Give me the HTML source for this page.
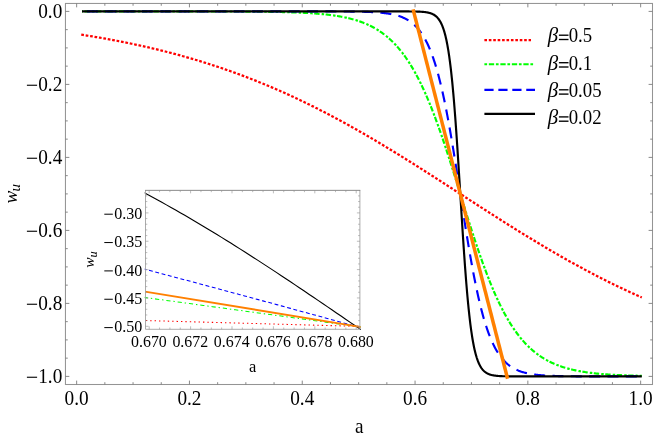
<!DOCTYPE html><html><head><meta charset="utf-8"><style>html,body{margin:0;padding:0;background:#fff;overflow:hidden}svg{will-change:transform;display:block;position:absolute;left:0;top:0}text{font-family:"Liberation Serif",serif;fill:#000}</style></head><body>
<svg width="654" height="436" viewBox="0 0 654 436">
<rect width="654" height="436" fill="#fff"/>
<defs><clipPath id="mc"><rect x="65.45" y="3.45" width="587.05" height="381.05"/></clipPath><clipPath id="ic"><rect x="144.70" y="190.35" width="216.10" height="139.55"/></clipPath></defs>
<g clip-path="url(#mc)" fill="none" stroke-linejoin="round">
<path d="M81.25,34.64 L83.12,34.93 L84.99,35.22 L86.86,35.52 L88.72,35.82 L90.59,36.13 L92.46,36.43 L94.33,36.74 L96.20,37.06 L98.07,37.38 L99.93,37.70 L101.80,38.02 L103.67,38.35 L105.54,38.68 L107.41,39.02 L109.28,39.36 L111.14,39.70 L113.01,40.05 L114.88,40.40 L116.75,40.76 L118.62,41.12 L120.49,41.48 L122.36,41.85 L124.22,42.22 L126.09,42.60 L127.96,42.98 L129.83,43.36 L131.70,43.75 L133.57,44.15 L135.43,44.54 L137.30,44.94 L139.17,45.35 L141.04,45.76 L142.91,46.17 L144.78,46.59 L146.64,47.02 L148.51,47.45 L150.38,47.88 L152.25,48.32 L154.12,48.76 L155.99,49.20 L157.86,49.66 L159.72,50.11 L161.59,50.57 L163.46,51.04 L165.33,51.51 L167.20,51.99 L169.07,52.47 L170.93,52.95 L172.80,53.44 L174.67,53.94 L176.54,54.44 L178.41,54.94 L180.28,55.45 L182.15,55.97 L184.01,56.49 L185.88,57.02 L187.75,57.55 L189.62,58.09 L191.49,58.63 L193.36,59.18 L195.22,59.73 L197.09,60.29 L198.96,60.85 L200.83,61.42 L202.70,61.99 L204.57,62.57 L206.43,63.16 L208.30,63.75 L210.17,64.35 L212.04,64.95 L213.91,65.56 L215.78,66.17 L217.65,66.79 L219.51,67.42 L221.38,68.05 L223.25,68.69 L225.12,69.33 L226.99,69.98 L228.86,70.63 L230.72,71.29 L232.59,71.96 L234.46,72.63 L236.33,73.31 L238.20,74.00 L240.07,74.69 L241.93,75.38 L243.80,76.08 L245.67,76.79 L247.54,77.51 L249.41,78.23 L251.28,78.95 L253.15,79.69 L255.01,80.42 L256.88,81.17 L258.75,81.92 L260.62,82.68 L262.49,83.44 L264.36,84.21 L266.22,84.99 L268.09,85.77 L269.96,86.55 L271.83,87.35 L273.70,88.15 L275.57,88.95 L277.43,89.77 L279.30,90.59 L281.17,91.41 L283.04,92.24 L284.91,93.08 L286.78,93.92 L288.65,94.77 L290.51,95.63 L292.38,96.49 L294.25,97.36 L296.12,98.23 L297.99,99.11 L299.86,100.00 L301.72,100.89 L303.59,101.79 L305.46,102.69 L307.33,103.60 L309.20,104.52 L311.07,105.44 L312.93,106.37 L314.80,107.30 L316.67,108.24 L318.54,109.19 L320.41,110.14 L322.28,111.10 L324.15,112.06 L326.01,113.03 L327.88,114.00 L329.75,114.98 L331.62,115.97 L333.49,116.96 L335.36,117.96 L337.22,118.96 L339.09,119.97 L340.96,120.98 L342.83,122.00 L344.70,123.02 L346.57,124.05 L348.44,125.09 L350.30,126.13 L352.17,127.17 L354.04,128.22 L355.91,129.28 L357.78,130.34 L359.65,131.40 L361.51,132.47 L363.38,133.55 L365.25,134.63 L367.12,135.71 L368.99,136.80 L370.86,137.89 L372.72,138.99 L374.59,140.09 L376.46,141.20 L378.33,142.31 L380.20,143.42 L382.07,144.54 L383.94,145.66 L385.80,146.79 L387.67,147.92 L389.54,149.05 L391.41,150.19 L393.28,151.33 L395.15,152.48 L397.01,153.63 L398.88,154.78 L400.75,155.94 L402.62,157.09 L404.49,158.26 L406.36,159.42 L408.22,160.59 L410.09,161.76 L411.96,162.93 L413.83,164.11 L415.70,165.28 L417.57,166.47 L419.44,167.65 L421.30,168.83 L423.17,170.02 L425.04,171.21 L426.91,172.40 L428.78,173.60 L430.65,174.79 L432.51,175.99 L434.38,177.19 L436.25,178.39 L438.12,179.59 L439.99,180.79 L441.86,181.99 L443.72,183.20 L445.59,184.40 L447.46,185.61 L449.33,186.82 L451.20,188.02 L453.07,189.23 L454.94,190.44 L456.80,191.65 L458.67,192.86 L460.54,194.07 L462.41,195.28 L464.28,196.49 L466.15,197.69 L468.01,198.90 L469.88,200.11 L471.75,201.32 L473.62,202.52 L475.49,203.73 L477.36,204.94 L479.22,206.14 L481.09,207.34 L482.96,208.55 L484.83,209.75 L486.70,210.95 L488.57,212.14 L490.44,213.34 L492.30,214.53 L494.17,215.73 L496.04,216.92 L497.91,218.11 L499.78,219.29 L501.65,220.48 L503.51,221.66 L505.38,222.84 L507.25,224.02 L509.12,225.19 L510.99,226.37 L512.86,227.54 L514.72,228.70 L516.59,229.87 L518.46,231.03 L520.33,232.18 L522.20,233.34 L524.07,234.49 L525.94,235.64 L527.80,236.78 L529.67,237.92 L531.54,239.06 L533.41,240.19 L535.28,241.32 L537.15,242.45 L539.01,243.57 L540.88,244.69 L542.75,245.80 L544.62,246.91 L546.49,248.01 L548.36,249.11 L550.23,250.21 L552.09,251.30 L553.96,252.39 L555.83,253.47 L557.70,254.55 L559.57,255.62 L561.44,256.69 L563.30,257.76 L565.17,258.81 L567.04,259.87 L568.91,260.92 L570.78,261.96 L572.65,263.00 L574.51,264.03 L576.38,265.06 L578.25,266.08 L580.12,267.10 L581.99,268.11 L583.86,269.12 L585.73,270.12 L587.59,271.11 L589.46,272.10 L591.33,273.09 L593.20,274.07 L595.07,275.04 L596.94,276.01 L598.80,276.97 L600.67,277.93 L602.54,278.88 L604.41,279.82 L606.28,280.76 L608.15,281.69 L610.01,282.62 L611.88,283.54 L613.75,284.45 L615.62,285.36 L617.49,286.26 L619.36,287.16 L621.23,288.05 L623.09,288.93 L624.96,289.81 L626.83,290.68 L628.70,291.55 L630.57,292.41 L632.44,293.26 L634.30,294.11 L636.17,294.95 L638.04,295.79 L639.91,296.62 L641.78,297.44" stroke="#ff0000" stroke-width="2.25" stroke-dasharray="2.7 1.78" />
<path d="M82.01,11.40 L82.94,11.40 L83.87,11.40 L84.81,11.40 L85.74,11.40 L86.67,11.40 L87.61,11.40 L88.54,11.40 L89.47,11.40 L90.40,11.40 L91.34,11.40 L92.27,11.40 L93.20,11.40 L94.14,11.40 L95.07,11.40 L96.00,11.40 L96.94,11.40 L97.87,11.40 L98.80,11.40 L99.73,11.40 L100.67,11.40 L101.60,11.40 L102.53,11.40 L103.47,11.40 L104.40,11.40 L105.33,11.40 L106.26,11.40 L107.20,11.40 L108.13,11.40 L109.06,11.40 L110.00,11.40 L110.93,11.40 L111.86,11.40 L112.80,11.40 L113.73,11.40 L114.66,11.40 L115.59,11.40 L116.53,11.40 L117.46,11.40 L118.39,11.40 L119.33,11.40 L120.26,11.40 L121.19,11.40 L122.12,11.40 L123.06,11.40 L123.99,11.40 L124.92,11.40 L125.86,11.40 L126.79,11.40 L127.72,11.40 L128.66,11.40 L129.59,11.40 L130.52,11.40 L131.45,11.40 L132.39,11.40 L133.32,11.40 L134.25,11.40 L135.19,11.40 L136.12,11.40 L137.05,11.40 L137.99,11.40 L138.92,11.40 L139.85,11.40 L140.78,11.40 L141.72,11.40 L142.65,11.40 L143.58,11.40 L144.52,11.41 L145.45,11.41 L146.38,11.41 L147.31,11.41 L148.25,11.41 L149.18,11.41 L150.11,11.41 L151.05,11.41 L151.98,11.41 L152.91,11.41 L153.85,11.41 L154.78,11.41 L155.71,11.41 L156.64,11.41 L157.58,11.41 L158.51,11.41 L159.44,11.41 L160.38,11.41 L161.31,11.41 L162.24,11.41 L163.17,11.41 L164.11,11.41 L165.04,11.41 L165.97,11.41 L166.91,11.41 L167.84,11.41 L168.77,11.41 L169.71,11.41 L170.64,11.41 L171.57,11.41 L172.50,11.41 L173.44,11.41 L174.37,11.41 L175.30,11.41 L176.24,11.42 L177.17,11.42 L178.10,11.42 L179.03,11.42 L179.97,11.42 L180.90,11.42 L181.83,11.42 L182.77,11.42 L183.70,11.42 L184.63,11.42 L185.57,11.42 L186.50,11.42 L187.43,11.42 L188.36,11.42 L189.30,11.42 L190.23,11.43 L191.16,11.43 L192.10,11.43 L193.03,11.43 L193.96,11.43 L194.89,11.43 L195.83,11.43 L196.76,11.43 L197.69,11.43 L198.63,11.43 L199.56,11.44 L200.49,11.44 L201.43,11.44 L202.36,11.44 L203.29,11.44 L204.22,11.44 L205.16,11.44 L206.09,11.44 L207.02,11.45 L207.96,11.45 L208.89,11.45 L209.82,11.45 L210.76,11.45 L211.69,11.45 L212.62,11.46 L213.55,11.46 L214.49,11.46 L215.42,11.46 L216.35,11.46 L217.29,11.47 L218.22,11.47 L219.15,11.47 L220.08,11.47 L221.02,11.48 L221.95,11.48 L222.88,11.48 L223.82,11.48 L224.75,11.49 L225.68,11.49 L226.62,11.49 L227.55,11.50 L228.48,11.50 L229.41,11.50 L230.35,11.50 L231.28,11.51 L232.21,11.51 L233.15,11.52 L234.08,11.52 L235.01,11.52 L235.94,11.53 L236.88,11.53 L237.81,11.54 L238.74,11.54 L239.68,11.55 L240.61,11.55 L241.54,11.56 L242.48,11.56 L243.41,11.57 L244.34,11.57 L245.27,11.58 L246.21,11.58 L247.14,11.59 L248.07,11.60 L249.01,11.60 L249.94,11.61 L250.87,11.62 L251.80,11.62 L252.74,11.63 L253.67,11.64 L254.60,11.65 L255.54,11.66 L256.47,11.66 L257.40,11.67 L258.34,11.68 L259.27,11.69 L260.20,11.70 L261.13,11.71 L262.07,11.72 L263.00,11.73 L263.93,11.75 L264.87,11.76 L265.80,11.77 L266.73,11.78 L267.67,11.79 L268.60,11.81 L269.53,11.82 L270.46,11.83 L271.40,11.85 L272.33,11.86 L273.26,11.88 L274.20,11.90 L275.13,11.91 L276.06,11.93 L276.99,11.95 L277.93,11.97 L278.86,11.99 L279.79,12.01 L280.73,12.03 L281.66,12.05 L282.59,12.07 L283.53,12.09 L284.46,12.11 L285.39,12.14 L286.32,12.16 L287.26,12.19 L288.19,12.21 L289.12,12.24 L290.06,12.27 L290.99,12.30 L291.92,12.33 L292.85,12.36 L293.79,12.39 L294.72,12.43 L295.65,12.46 L296.59,12.50 L297.52,12.53 L298.45,12.57 L299.39,12.61 L300.32,12.65 L301.25,12.69 L302.18,12.74 L303.12,12.78 L304.05,12.83 L304.98,12.88 L305.92,12.92 L306.85,12.98 L307.78,13.03 L308.71,13.08 L309.65,13.14 L310.58,13.20 L311.51,13.26 L312.45,13.32 L313.38,13.38 L314.31,13.45 L315.25,13.52 L316.18,13.59 L317.11,13.66 L318.04,13.74 L318.98,13.82 L319.91,13.90 L320.84,13.98 L321.78,14.07 L322.71,14.16 L323.64,14.25 L324.58,14.34 L325.51,14.44 L326.44,14.54 L327.37,14.65 L328.31,14.76 L329.24,14.87 L330.17,14.98 L331.11,15.10 L332.04,15.23 L332.97,15.35 L333.90,15.48 L334.84,15.62 L335.77,15.76 L336.70,15.91 L337.64,16.05 L338.57,16.21 L339.50,16.37 L340.44,16.53 L341.37,16.70 L342.30,16.88 L343.23,17.06 L344.17,17.25 L345.10,17.44 L346.03,17.64 L346.97,17.85 L347.90,18.06 L348.83,18.28 L349.76,18.51 L350.70,18.74 L351.63,18.98 L352.56,19.23 L353.50,19.49 L354.43,19.76 L355.36,20.03 L356.30,20.31 L357.23,20.61 L358.16,20.91 L359.09,21.22 L360.03,21.54 L360.96,21.87 L361.89,22.21 L362.83,22.57 L363.76,22.93 L364.69,23.31 L365.62,23.69 L366.56,24.09 L367.49,24.50 L368.42,24.93 L369.36,25.36 L370.29,25.82 L371.22,26.28 L372.16,26.76 L373.09,27.26 L374.02,27.76 L374.95,28.29 L375.89,28.83 L376.82,29.39 L377.75,29.96 L378.69,30.55 L379.62,31.16 L380.55,31.79 L381.48,32.44 L382.42,33.10 L383.35,33.79 L384.28,34.49 L385.22,35.22 L386.15,35.97 L387.08,36.74 L388.02,37.53 L388.95,38.34 L389.88,39.18 L390.81,40.04 L391.75,40.92 L392.68,41.83 L393.61,42.77 L394.55,43.73 L395.48,44.72 L396.41,45.74 L397.35,46.78 L398.28,47.85 L399.21,48.95 L400.14,50.08 L401.08,51.24 L402.01,52.43 L402.94,53.65 L403.88,54.90 L404.81,56.18 L405.74,57.50 L406.67,58.85 L407.61,60.23 L408.54,61.65 L409.47,63.10 L410.41,64.58 L411.34,66.10 L412.27,67.66 L413.21,69.25 L414.14,70.88 L415.07,72.55 L416.00,74.25 L416.94,75.99 L417.87,77.77 L418.80,79.58 L419.74,81.44 L420.67,83.33 L421.60,85.26 L422.53,87.23 L423.47,89.23 L424.40,91.28 L425.33,93.36 L426.27,95.48 L427.20,97.64 L428.13,99.84 L429.07,102.08 L430.00,104.35 L430.93,106.66 L431.86,109.01 L432.80,111.39 L433.73,113.81 L434.66,116.27 L435.60,118.76 L436.53,121.28 L437.46,123.84 L438.39,126.43 L439.33,129.05 L440.26,131.70 L441.19,134.39 L442.13,137.10 L443.06,139.84 L443.99,142.61 L444.93,145.40 L445.86,148.22 L446.79,151.06 L447.72,153.92 L448.66,156.81 L449.59,159.71 L450.52,162.63 L451.46,165.57 L452.39,168.52 L453.32,171.49 L454.26,174.47 L455.19,177.46 L456.12,180.46 L457.05,183.46 L457.99,186.47 L458.92,189.49 L459.85,192.51 L460.79,195.53 L461.72,198.55 L462.65,201.56 L463.58,204.57 L464.52,207.58 L465.45,210.57 L466.38,213.56 L467.32,216.54 L468.25,219.51 L469.18,222.46 L470.12,225.40 L471.05,228.32 L471.98,231.22 L472.91,234.10 L473.85,236.96 L474.78,239.80 L475.71,242.62 L476.65,245.41 L477.58,248.18 L478.51,250.91 L479.44,253.62 L480.38,256.30 L481.31,258.96 L482.24,261.57 L483.18,264.16 L484.11,266.72 L485.04,269.24 L485.98,271.73 L486.91,274.18 L487.84,276.60 L488.77,278.98 L489.71,281.32 L490.64,283.63 L491.57,285.90 L492.51,288.13 L493.44,290.33 L494.37,292.48 L495.30,294.60 L496.24,296.68 L497.17,298.73 L498.10,300.73 L499.04,302.69 L499.97,304.62 L500.90,306.51 L501.84,308.36 L502.77,310.17 L503.70,311.95 L504.63,313.68 L505.57,315.38 L506.50,317.05 L507.43,318.67 L508.37,320.26 L509.30,321.82 L510.23,323.33 L511.16,324.82 L512.10,326.26 L513.03,327.68 L513.96,329.06 L514.90,330.40 L515.83,331.72 L516.76,333.00 L517.70,334.25 L518.63,335.47 L519.56,336.65 L520.49,337.81 L521.43,338.94 L522.36,340.03 L523.29,341.10 L524.23,342.14 L525.16,343.16 L526.09,344.14 L527.03,345.10 L527.96,346.04 L528.89,346.95 L529.82,347.83 L530.76,348.69 L531.69,349.52 L532.62,350.34 L533.56,351.13 L534.49,351.89 L535.42,352.64 L536.35,353.36 L537.29,354.07 L538.22,354.75 L539.15,355.41 L540.09,356.06 L541.02,356.69 L541.95,357.29 L542.89,357.88 L543.82,358.46 L544.75,359.01 L545.68,359.55 L546.62,360.08 L547.55,360.58 L548.48,361.08 L549.42,361.56 L550.35,362.02 L551.28,362.47 L552.21,362.91 L553.15,363.33 L554.08,363.74 L555.01,364.14 L555.95,364.52 L556.88,364.90 L557.81,365.26 L558.75,365.61 L559.68,365.95 L560.61,366.28 L561.54,366.61 L562.48,366.92 L563.41,367.22 L564.34,367.51 L565.28,367.79 L566.21,368.06 L567.14,368.33 L568.07,368.59 L569.01,368.84 L569.94,369.08 L570.87,369.31 L571.81,369.54 L572.74,369.76 L573.67,369.97 L574.61,370.17 L575.54,370.37 L576.47,370.57 L577.40,370.75 L578.34,370.93 L579.27,371.11 L580.20,371.28 L581.14,371.44 L582.07,371.60 L583.00,371.76 L583.94,371.91 L584.87,372.05 L585.80,372.19 L586.73,372.33 L587.67,372.46 L588.60,372.58 L589.53,372.71 L590.47,372.83 L591.40,372.94 L592.33,373.05 L593.26,373.16 L594.20,373.27 L595.13,373.37 L596.06,373.46 L597.00,373.56 L597.93,373.65 L598.86,373.74 L599.80,373.83 L600.73,373.91 L601.66,373.99 L602.59,374.07 L603.53,374.14 L604.46,374.22 L605.39,374.29 L606.33,374.35 L607.26,374.42 L608.19,374.49 L609.12,374.55 L610.06,374.61 L610.99,374.67 L611.92,374.72 L612.86,374.78 L613.79,374.83 L614.72,374.88 L615.66,374.93 L616.59,374.98 L617.52,375.02 L618.45,375.07 L619.39,375.11 L620.32,375.15 L621.25,375.19 L622.19,375.23 L623.12,375.27 L624.05,375.31 L624.98,375.34 L625.92,375.38 L626.85,375.41 L627.78,375.44 L628.72,375.47 L629.65,375.50 L630.58,375.53 L631.52,375.56 L632.45,375.59 L633.38,375.61 L634.31,375.64 L635.25,375.66 L636.18,375.69 L637.11,375.71 L638.05,375.73 L638.98,375.76 L639.91,375.78 L640.85,375.80 L641.78,375.82" stroke="#00ff00" stroke-width="2.15" stroke-dasharray="2.5 1.5 5.4 2.088" stroke-dashoffset="1.55"/>
<path d="M82.01,11.40 L82.71,11.40 L83.41,11.40 L84.11,11.40 L84.81,11.40 L85.51,11.40 L86.21,11.40 L86.91,11.40 L87.61,11.40 L88.31,11.40 L89.01,11.40 L89.70,11.40 L90.40,11.40 L91.10,11.40 L91.80,11.40 L92.50,11.40 L93.20,11.40 L93.90,11.40 L94.60,11.40 L95.30,11.40 L96.00,11.40 L96.70,11.40 L97.40,11.40 L98.10,11.40 L98.80,11.40 L99.50,11.40 L100.20,11.40 L100.90,11.40 L101.60,11.40 L102.30,11.40 L103.00,11.40 L103.70,11.40 L104.40,11.40 L105.10,11.40 L105.80,11.40 L106.50,11.40 L107.20,11.40 L107.90,11.40 L108.60,11.40 L109.30,11.40 L110.00,11.40 L110.70,11.40 L111.40,11.40 L112.10,11.40 L112.80,11.40 L113.50,11.40 L114.19,11.40 L114.89,11.40 L115.59,11.40 L116.29,11.40 L116.99,11.40 L117.69,11.40 L118.39,11.40 L119.09,11.40 L119.79,11.40 L120.49,11.40 L121.19,11.40 L121.89,11.40 L122.59,11.40 L123.29,11.40 L123.99,11.40 L124.69,11.40 L125.39,11.40 L126.09,11.40 L126.79,11.40 L127.49,11.40 L128.19,11.40 L128.89,11.40 L129.59,11.40 L130.29,11.40 L130.99,11.40 L131.69,11.40 L132.39,11.40 L133.09,11.40 L133.79,11.40 L134.49,11.40 L135.19,11.40 L135.89,11.40 L136.59,11.40 L137.29,11.40 L137.99,11.40 L138.68,11.40 L139.38,11.40 L140.08,11.40 L140.78,11.40 L141.48,11.40 L142.18,11.40 L142.88,11.40 L143.58,11.40 L144.28,11.40 L144.98,11.40 L145.68,11.40 L146.38,11.40 L147.08,11.40 L147.78,11.40 L148.48,11.40 L149.18,11.40 L149.88,11.40 L150.58,11.40 L151.28,11.40 L151.98,11.40 L152.68,11.40 L153.38,11.40 L154.08,11.40 L154.78,11.40 L155.48,11.40 L156.18,11.40 L156.88,11.40 L157.58,11.40 L158.28,11.40 L158.98,11.40 L159.68,11.40 L160.38,11.40 L161.08,11.40 L161.78,11.40 L162.47,11.40 L163.17,11.40 L163.87,11.40 L164.57,11.40 L165.27,11.40 L165.97,11.40 L166.67,11.40 L167.37,11.40 L168.07,11.40 L168.77,11.40 L169.47,11.40 L170.17,11.40 L170.87,11.40 L171.57,11.40 L172.27,11.40 L172.97,11.40 L173.67,11.40 L174.37,11.40 L175.07,11.40 L175.77,11.40 L176.47,11.40 L177.17,11.40 L177.87,11.40 L178.57,11.40 L179.27,11.40 L179.97,11.40 L180.67,11.40 L181.37,11.40 L182.07,11.40 L182.77,11.40 L183.47,11.40 L184.17,11.40 L184.87,11.40 L185.57,11.40 L186.27,11.40 L186.96,11.40 L187.66,11.40 L188.36,11.40 L189.06,11.40 L189.76,11.40 L190.46,11.40 L191.16,11.40 L191.86,11.40 L192.56,11.40 L193.26,11.40 L193.96,11.40 L194.66,11.40 L195.36,11.40 L196.06,11.40 L196.76,11.40 L197.46,11.40 L198.16,11.40 L198.86,11.40 L199.56,11.40 L200.26,11.40 L200.96,11.40 L201.66,11.40 L202.36,11.40 L203.06,11.40 L203.76,11.40 L204.46,11.40 L205.16,11.40 L205.86,11.40 L206.56,11.40 L207.26,11.40 L207.96,11.40 L208.66,11.40 L209.36,11.40 L210.06,11.40 L210.76,11.40 L211.45,11.40 L212.15,11.40 L212.85,11.40 L213.55,11.40 L214.25,11.40 L214.95,11.40 L215.65,11.40 L216.35,11.40 L217.05,11.40 L217.75,11.40 L218.45,11.40 L219.15,11.40 L219.85,11.40 L220.55,11.40 L221.25,11.40 L221.95,11.40 L222.65,11.40 L223.35,11.40 L224.05,11.40 L224.75,11.40 L225.45,11.40 L226.15,11.40 L226.85,11.40 L227.55,11.40 L228.25,11.40 L228.95,11.40 L229.65,11.40 L230.35,11.40 L231.05,11.40 L231.75,11.40 L232.45,11.40 L233.15,11.40 L233.85,11.40 L234.55,11.40 L235.25,11.40 L235.94,11.40 L236.64,11.40 L237.34,11.40 L238.04,11.40 L238.74,11.40 L239.44,11.40 L240.14,11.40 L240.84,11.40 L241.54,11.40 L242.24,11.40 L242.94,11.40 L243.64,11.40 L244.34,11.40 L245.04,11.40 L245.74,11.40 L246.44,11.40 L247.14,11.40 L247.84,11.40 L248.54,11.40 L249.24,11.40 L249.94,11.40 L250.64,11.40 L251.34,11.40 L252.04,11.40 L252.74,11.40 L253.44,11.40 L254.14,11.40 L254.84,11.40 L255.54,11.40 L256.24,11.40 L256.94,11.40 L257.64,11.40 L258.34,11.40 L259.04,11.40 L259.73,11.40 L260.43,11.40 L261.13,11.40 L261.83,11.40 L262.53,11.40 L263.23,11.40 L263.93,11.40 L264.63,11.40 L265.33,11.40 L266.03,11.40 L266.73,11.40 L267.43,11.40 L268.13,11.40 L268.83,11.40 L269.53,11.40 L270.23,11.40 L270.93,11.40 L271.63,11.40 L272.33,11.40 L273.03,11.40 L273.73,11.40 L274.43,11.40 L275.13,11.40 L275.83,11.40 L276.53,11.40 L277.23,11.40 L277.93,11.40 L278.63,11.40 L279.33,11.40 L280.03,11.40 L280.73,11.40 L281.43,11.40 L282.13,11.40 L282.83,11.40 L283.53,11.40 L284.22,11.40 L284.92,11.40 L285.62,11.40 L286.32,11.40 L287.02,11.40 L287.72,11.40 L288.42,11.40 L289.12,11.40 L289.82,11.40 L290.52,11.40 L291.22,11.40 L291.92,11.40 L292.62,11.40 L293.32,11.40 L294.02,11.40 L294.72,11.40 L295.42,11.40 L296.12,11.40 L296.82,11.40 L297.52,11.40 L298.22,11.40 L298.92,11.40 L299.62,11.40 L300.32,11.40 L301.02,11.40 L301.72,11.40 L302.42,11.41 L303.12,11.41 L303.82,11.41 L304.52,11.41 L305.22,11.41 L305.92,11.41 L306.62,11.41 L307.32,11.41 L308.02,11.41 L308.71,11.41 L309.41,11.41 L310.11,11.41 L310.81,11.41 L311.51,11.41 L312.21,11.41 L312.91,11.41 L313.61,11.41 L314.31,11.41 L315.01,11.41 L315.71,11.41 L316.41,11.41 L317.11,11.41 L317.81,11.41 L318.51,11.42 L319.21,11.42 L319.91,11.42 L320.61,11.42 L321.31,11.42 L322.01,11.42 L322.71,11.42 L323.41,11.42 L324.11,11.42 L324.81,11.42 L325.51,11.43 L326.21,11.43 L326.91,11.43 L327.61,11.43 L328.31,11.43 L329.01,11.43 L329.71,11.43 L330.41,11.44 L331.11,11.44 L331.81,11.44 L332.51,11.44 L333.20,11.44 L333.90,11.45 L334.60,11.45 L335.30,11.45 L336.00,11.45 L336.70,11.46 L337.40,11.46 L338.10,11.46 L338.80,11.47 L339.50,11.47 L340.20,11.47 L340.90,11.48 L341.60,11.48 L342.30,11.48 L343.00,11.49 L343.70,11.49 L344.40,11.50 L345.10,11.50 L345.80,11.51 L346.50,11.51 L347.20,11.52 L347.90,11.53 L348.60,11.53 L349.30,11.54 L350.00,11.55 L350.70,11.55 L351.40,11.56 L352.10,11.57 L352.80,11.58 L353.50,11.59 L354.20,11.60 L354.90,11.61 L355.60,11.62 L356.30,11.63 L357.00,11.64 L357.69,11.65 L358.39,11.67 L359.09,11.68 L359.79,11.69 L360.49,11.71 L361.19,11.72 L361.89,11.74 L362.59,11.76 L363.29,11.78 L363.99,11.79 L364.69,11.81 L365.39,11.84 L366.09,11.86 L366.79,11.88 L367.49,11.91 L368.19,11.93 L368.89,11.96 L369.59,11.99 L370.29,12.02 L370.99,12.05 L371.69,12.08 L372.39,12.11 L373.09,12.15 L373.79,12.19 L374.49,12.23 L375.19,12.27 L375.89,12.32 L376.59,12.36 L377.29,12.41 L377.99,12.46 L378.69,12.52 L379.39,12.57 L380.09,12.63 L380.79,12.69 L381.48,12.76 L382.18,12.83 L382.88,12.90 L383.58,12.98 L384.28,13.06 L384.98,13.14 L385.68,13.23 L386.38,13.32 L387.08,13.42 L387.78,13.52 L388.48,13.63 L389.18,13.74 L389.88,13.86 L390.58,13.98 L391.28,14.11 L391.98,14.25 L392.68,14.40 L393.38,14.55 L394.08,14.71 L394.78,14.87 L395.48,15.05 L396.18,15.23 L396.88,15.42 L397.58,15.63 L398.28,15.84 L398.98,16.06 L399.68,16.29 L400.38,16.54 L401.08,16.80 L401.78,17.07 L402.48,17.35 L403.18,17.65 L403.88,17.96 L404.58,18.29 L405.28,18.63 L405.97,18.99 L406.67,19.37 L407.37,19.77 L408.07,20.18 L408.77,20.62 L409.47,21.07 L410.17,21.55 L410.87,22.05 L411.57,22.58 L412.27,23.13 L412.97,23.71 L413.67,24.31 L414.37,24.94 L415.07,25.61 L415.77,26.30 L416.47,27.03 L417.17,27.78 L417.87,28.58 L418.57,29.41 L419.27,30.28 L419.97,31.19 L420.67,32.14 L421.37,33.13 L422.07,34.17 L422.77,35.25 L423.47,36.38 L424.17,37.56 L424.87,38.79 L425.57,40.07 L426.27,41.41 L426.97,42.81 L427.67,44.26 L428.37,45.78 L429.07,47.35 L429.77,48.99 L430.46,50.70 L431.16,52.47 L431.86,54.32 L432.56,56.23 L433.26,58.22 L433.96,60.29 L434.66,62.42 L435.36,64.64 L436.06,66.94 L436.76,69.32 L437.46,71.78 L438.16,74.32 L438.86,76.94 L439.56,79.65 L440.26,82.45 L440.96,85.33 L441.66,88.30 L442.36,91.36 L443.06,94.50 L443.76,97.73 L444.46,101.04 L445.16,104.44 L445.86,107.92 L446.56,111.49 L447.26,115.13 L447.96,118.85 L448.66,122.66 L449.36,126.53 L450.06,130.48 L450.76,134.49 L451.46,138.57 L452.16,142.72 L452.86,146.92 L453.56,151.17 L454.26,155.47 L454.95,159.82 L455.65,164.21 L456.35,168.64 L457.05,173.09 L457.75,177.58 L458.45,182.08 L459.15,186.59 L459.85,191.12 L460.55,195.65 L461.25,200.17 L461.95,204.69 L462.65,209.19 L463.35,213.68 L464.05,218.14 L464.75,222.58 L465.45,226.97 L466.15,231.33 L466.85,235.65 L467.55,239.91 L468.25,244.13 L468.95,248.28 L469.65,252.38 L470.35,256.41 L471.05,260.37 L471.75,264.26 L472.45,268.08 L473.15,271.82 L473.85,275.49 L474.55,279.07 L475.25,282.57 L475.95,285.99 L476.65,289.32 L477.35,292.57 L478.05,295.73 L478.74,298.80 L479.44,301.79 L480.14,304.70 L480.84,307.51 L481.54,310.24 L482.24,312.89 L482.94,315.45 L483.64,317.93 L484.34,320.32 L485.04,322.64 L485.74,324.87 L486.44,327.03 L487.14,329.11 L487.84,331.12 L488.54,333.05 L489.24,334.91 L489.94,336.70 L490.64,338.42 L491.34,340.08 L492.04,341.67 L492.74,343.20 L493.44,344.66 L494.14,346.07 L494.84,347.42 L495.54,348.72 L496.24,349.96 L496.94,351.16 L497.64,352.30 L498.34,353.39 L499.04,354.44 L499.74,355.44 L500.44,356.40 L501.14,357.32 L501.84,358.19 L502.54,359.03 L503.23,359.84 L503.93,360.60 L504.63,361.34 L505.33,362.04 L506.03,362.71 L506.73,363.35 L507.43,363.96 L508.13,364.54 L508.83,365.10 L509.53,365.63 L510.23,366.13 L510.93,366.62 L511.63,367.08 L512.33,367.52 L513.03,367.94 L513.73,368.34 L514.43,368.72 L515.13,369.09 L515.83,369.43 L516.53,369.76 L517.23,370.08 L517.93,370.38 L518.63,370.67 L519.33,370.94 L520.03,371.20 L520.73,371.45 L521.43,371.69 L522.13,371.91 L522.83,372.13 L523.53,372.33 L524.23,372.53 L524.93,372.71 L525.63,372.89 L526.33,373.06 L527.03,373.22 L527.72,373.37 L528.42,373.52 L529.12,373.65 L529.82,373.79 L530.52,373.91 L531.22,374.03 L531.92,374.15 L532.62,374.25 L533.32,374.36 L534.02,374.46 L534.72,374.55 L535.42,374.64 L536.12,374.72 L536.82,374.80 L537.52,374.88 L538.22,374.95 L538.92,375.02 L539.62,375.09 L540.32,375.15 L541.02,375.21 L541.72,375.27 L542.42,375.33 L543.12,375.38 L543.82,375.43 L544.52,375.47 L545.22,375.52 L545.92,375.56 L546.62,375.60 L547.32,375.64 L548.02,375.68 L548.72,375.71 L549.42,375.75 L550.12,375.78 L550.82,375.81 L551.52,375.84 L552.21,375.86 L552.91,375.89 L553.61,375.91 L554.31,375.94 L555.01,375.96 L555.71,375.98 L556.41,376.00 L557.11,376.02 L557.81,376.04 L558.51,376.06 L559.21,376.07 L559.91,376.09 L560.61,376.10 L561.31,376.12 L562.01,376.13 L562.71,376.14 L563.41,376.16 L564.11,376.17 L564.81,376.18 L565.51,376.19 L566.21,376.20 L566.91,376.21 L567.61,376.22 L568.31,376.23 L569.01,376.24 L569.71,376.24 L570.41,376.25 L571.11,376.26 L571.81,376.27 L572.51,376.27 L573.21,376.28 L573.91,376.28 L574.61,376.29 L575.31,376.30 L576.01,376.30 L576.70,376.31 L577.40,376.31 L578.10,376.31 L578.80,376.32 L579.50,376.32 L580.20,376.33 L580.90,376.33 L581.60,376.33 L582.30,376.34 L583.00,376.34 L583.70,376.34 L584.40,376.35 L585.10,376.35 L585.80,376.35 L586.50,376.35 L587.20,376.36 L587.90,376.36 L588.60,376.36 L589.30,376.36 L590.00,376.36 L590.70,376.36 L591.40,376.37 L592.10,376.37 L592.80,376.37 L593.50,376.37 L594.20,376.37 L594.90,376.37 L595.60,376.38 L596.30,376.38 L597.00,376.38 L597.70,376.38 L598.40,376.38 L599.10,376.38 L599.80,376.38 L600.49,376.38 L601.19,376.38 L601.89,376.38 L602.59,376.38 L603.29,376.39 L603.99,376.39 L604.69,376.39 L605.39,376.39 L606.09,376.39 L606.79,376.39 L607.49,376.39 L608.19,376.39 L608.89,376.39 L609.59,376.39 L610.29,376.39 L610.99,376.39 L611.69,376.39 L612.39,376.39 L613.09,376.39 L613.79,376.39 L614.49,376.39 L615.19,376.39 L615.89,376.39 L616.59,376.39 L617.29,376.39 L617.99,376.39 L618.69,376.40 L619.39,376.40 L620.09,376.40 L620.79,376.40 L621.49,376.40 L622.19,376.40 L622.89,376.40 L623.59,376.40 L624.29,376.40 L624.98,376.40 L625.68,376.40 L626.38,376.40 L627.08,376.40 L627.78,376.40 L628.48,376.40 L629.18,376.40 L629.88,376.40 L630.58,376.40 L631.28,376.40 L631.98,376.40 L632.68,376.40 L633.38,376.40 L634.08,376.40 L634.78,376.40 L635.48,376.40 L636.18,376.40 L636.88,376.40 L637.58,376.40 L638.28,376.40 L638.98,376.40 L639.68,376.40 L640.38,376.40 L641.08,376.40 L641.78,376.40" stroke="#0000ff" stroke-width="2.15" stroke-dasharray="11.0 7.345" stroke-dashoffset="13.45"/>
<path d="M82.01,11.40 L82.38,11.40 L82.75,11.40 L83.13,11.40 L83.50,11.40 L83.87,11.40 L84.25,11.40 L84.62,11.40 L84.99,11.40 L85.37,11.40 L85.74,11.40 L86.11,11.40 L86.49,11.40 L86.86,11.40 L87.23,11.40 L87.61,11.40 L87.98,11.40 L88.35,11.40 L88.73,11.40 L89.10,11.40 L89.47,11.40 L89.84,11.40 L90.22,11.40 L90.59,11.40 L90.96,11.40 L91.34,11.40 L91.71,11.40 L92.08,11.40 L92.46,11.40 L92.83,11.40 L93.20,11.40 L93.58,11.40 L93.95,11.40 L94.32,11.40 L94.70,11.40 L95.07,11.40 L95.44,11.40 L95.82,11.40 L96.19,11.40 L96.56,11.40 L96.94,11.40 L97.31,11.40 L97.68,11.40 L98.05,11.40 L98.43,11.40 L98.80,11.40 L99.17,11.40 L99.55,11.40 L99.92,11.40 L100.29,11.40 L100.67,11.40 L101.04,11.40 L101.41,11.40 L101.79,11.40 L102.16,11.40 L102.53,11.40 L102.91,11.40 L103.28,11.40 L103.65,11.40 L104.03,11.40 L104.40,11.40 L104.77,11.40 L105.15,11.40 L105.52,11.40 L105.89,11.40 L106.26,11.40 L106.64,11.40 L107.01,11.40 L107.38,11.40 L107.76,11.40 L108.13,11.40 L108.50,11.40 L108.88,11.40 L109.25,11.40 L109.62,11.40 L110.00,11.40 L110.37,11.40 L110.74,11.40 L111.12,11.40 L111.49,11.40 L111.86,11.40 L112.24,11.40 L112.61,11.40 L112.98,11.40 L113.36,11.40 L113.73,11.40 L114.10,11.40 L114.47,11.40 L114.85,11.40 L115.22,11.40 L115.59,11.40 L115.97,11.40 L116.34,11.40 L116.71,11.40 L117.09,11.40 L117.46,11.40 L117.83,11.40 L118.21,11.40 L118.58,11.40 L118.95,11.40 L119.33,11.40 L119.70,11.40 L120.07,11.40 L120.45,11.40 L120.82,11.40 L121.19,11.40 L121.57,11.40 L121.94,11.40 L122.31,11.40 L122.68,11.40 L123.06,11.40 L123.43,11.40 L123.80,11.40 L124.18,11.40 L124.55,11.40 L124.92,11.40 L125.30,11.40 L125.67,11.40 L126.04,11.40 L126.42,11.40 L126.79,11.40 L127.16,11.40 L127.54,11.40 L127.91,11.40 L128.28,11.40 L128.66,11.40 L129.03,11.40 L129.40,11.40 L129.78,11.40 L130.15,11.40 L130.52,11.40 L130.89,11.40 L131.27,11.40 L131.64,11.40 L132.01,11.40 L132.39,11.40 L132.76,11.40 L133.13,11.40 L133.51,11.40 L133.88,11.40 L134.25,11.40 L134.63,11.40 L135.00,11.40 L135.37,11.40 L135.75,11.40 L136.12,11.40 L136.49,11.40 L136.87,11.40 L137.24,11.40 L137.61,11.40 L137.99,11.40 L138.36,11.40 L138.73,11.40 L139.10,11.40 L139.48,11.40 L139.85,11.40 L140.22,11.40 L140.60,11.40 L140.97,11.40 L141.34,11.40 L141.72,11.40 L142.09,11.40 L142.46,11.40 L142.84,11.40 L143.21,11.40 L143.58,11.40 L143.96,11.40 L144.33,11.40 L144.70,11.40 L145.08,11.40 L145.45,11.40 L145.82,11.40 L146.19,11.40 L146.57,11.40 L146.94,11.40 L147.31,11.40 L147.69,11.40 L148.06,11.40 L148.43,11.40 L148.81,11.40 L149.18,11.40 L149.55,11.40 L149.93,11.40 L150.30,11.40 L150.67,11.40 L151.05,11.40 L151.42,11.40 L151.79,11.40 L152.17,11.40 L152.54,11.40 L152.91,11.40 L153.29,11.40 L153.66,11.40 L154.03,11.40 L154.40,11.40 L154.78,11.40 L155.15,11.40 L155.52,11.40 L155.90,11.40 L156.27,11.40 L156.64,11.40 L157.02,11.40 L157.39,11.40 L157.76,11.40 L158.14,11.40 L158.51,11.40 L158.88,11.40 L159.26,11.40 L159.63,11.40 L160.00,11.40 L160.38,11.40 L160.75,11.40 L161.12,11.40 L161.50,11.40 L161.87,11.40 L162.24,11.40 L162.61,11.40 L162.99,11.40 L163.36,11.40 L163.73,11.40 L164.11,11.40 L164.48,11.40 L164.85,11.40 L165.23,11.40 L165.60,11.40 L165.97,11.40 L166.35,11.40 L166.72,11.40 L167.09,11.40 L167.47,11.40 L167.84,11.40 L168.21,11.40 L168.59,11.40 L168.96,11.40 L169.33,11.40 L169.71,11.40 L170.08,11.40 L170.45,11.40 L170.82,11.40 L171.20,11.40 L171.57,11.40 L171.94,11.40 L172.32,11.40 L172.69,11.40 L173.06,11.40 L173.44,11.40 L173.81,11.40 L174.18,11.40 L174.56,11.40 L174.93,11.40 L175.30,11.40 L175.68,11.40 L176.05,11.40 L176.42,11.40 L176.80,11.40 L177.17,11.40 L177.54,11.40 L177.92,11.40 L178.29,11.40 L178.66,11.40 L179.03,11.40 L179.41,11.40 L179.78,11.40 L180.15,11.40 L180.53,11.40 L180.90,11.40 L181.27,11.40 L181.65,11.40 L182.02,11.40 L182.39,11.40 L182.77,11.40 L183.14,11.40 L183.51,11.40 L183.89,11.40 L184.26,11.40 L184.63,11.40 L185.01,11.40 L185.38,11.40 L185.75,11.40 L186.13,11.40 L186.50,11.40 L186.87,11.40 L187.24,11.40 L187.62,11.40 L187.99,11.40 L188.36,11.40 L188.74,11.40 L189.11,11.40 L189.48,11.40 L189.86,11.40 L190.23,11.40 L190.60,11.40 L190.98,11.40 L191.35,11.40 L191.72,11.40 L192.10,11.40 L192.47,11.40 L192.84,11.40 L193.22,11.40 L193.59,11.40 L193.96,11.40 L194.34,11.40 L194.71,11.40 L195.08,11.40 L195.45,11.40 L195.83,11.40 L196.20,11.40 L196.57,11.40 L196.95,11.40 L197.32,11.40 L197.69,11.40 L198.07,11.40 L198.44,11.40 L198.81,11.40 L199.19,11.40 L199.56,11.40 L199.93,11.40 L200.31,11.40 L200.68,11.40 L201.05,11.40 L201.43,11.40 L201.80,11.40 L202.17,11.40 L202.55,11.40 L202.92,11.40 L203.29,11.40 L203.66,11.40 L204.04,11.40 L204.41,11.40 L204.78,11.40 L205.16,11.40 L205.53,11.40 L205.90,11.40 L206.28,11.40 L206.65,11.40 L207.02,11.40 L207.40,11.40 L207.77,11.40 L208.14,11.40 L208.52,11.40 L208.89,11.40 L209.26,11.40 L209.64,11.40 L210.01,11.40 L210.38,11.40 L210.76,11.40 L211.13,11.40 L211.50,11.40 L211.87,11.40 L212.25,11.40 L212.62,11.40 L212.99,11.40 L213.37,11.40 L213.74,11.40 L214.11,11.40 L214.49,11.40 L214.86,11.40 L215.23,11.40 L215.61,11.40 L215.98,11.40 L216.35,11.40 L216.73,11.40 L217.10,11.40 L217.47,11.40 L217.85,11.40 L218.22,11.40 L218.59,11.40 L218.97,11.40 L219.34,11.40 L219.71,11.40 L220.08,11.40 L220.46,11.40 L220.83,11.40 L221.20,11.40 L221.58,11.40 L221.95,11.40 L222.32,11.40 L222.70,11.40 L223.07,11.40 L223.44,11.40 L223.82,11.40 L224.19,11.40 L224.56,11.40 L224.94,11.40 L225.31,11.40 L225.68,11.40 L226.06,11.40 L226.43,11.40 L226.80,11.40 L227.18,11.40 L227.55,11.40 L227.92,11.40 L228.29,11.40 L228.67,11.40 L229.04,11.40 L229.41,11.40 L229.79,11.40 L230.16,11.40 L230.53,11.40 L230.91,11.40 L231.28,11.40 L231.65,11.40 L232.03,11.40 L232.40,11.40 L232.77,11.40 L233.15,11.40 L233.52,11.40 L233.89,11.40 L234.27,11.40 L234.64,11.40 L235.01,11.40 L235.38,11.40 L235.76,11.40 L236.13,11.40 L236.50,11.40 L236.88,11.40 L237.25,11.40 L237.62,11.40 L238.00,11.40 L238.37,11.40 L238.74,11.40 L239.12,11.40 L239.49,11.40 L239.86,11.40 L240.24,11.40 L240.61,11.40 L240.98,11.40 L241.36,11.40 L241.73,11.40 L242.10,11.40 L242.48,11.40 L242.85,11.40 L243.22,11.40 L243.59,11.40 L243.97,11.40 L244.34,11.40 L244.71,11.40 L245.09,11.40 L245.46,11.40 L245.83,11.40 L246.21,11.40 L246.58,11.40 L246.95,11.40 L247.33,11.40 L247.70,11.40 L248.07,11.40 L248.45,11.40 L248.82,11.40 L249.19,11.40 L249.57,11.40 L249.94,11.40 L250.31,11.40 L250.69,11.40 L251.06,11.40 L251.43,11.40 L251.80,11.40 L252.18,11.40 L252.55,11.40 L252.92,11.40 L253.30,11.40 L253.67,11.40 L254.04,11.40 L254.42,11.40 L254.79,11.40 L255.16,11.40 L255.54,11.40 L255.91,11.40 L256.28,11.40 L256.66,11.40 L257.03,11.40 L257.40,11.40 L257.78,11.40 L258.15,11.40 L258.52,11.40 L258.90,11.40 L259.27,11.40 L259.64,11.40 L260.01,11.40 L260.39,11.40 L260.76,11.40 L261.13,11.40 L261.51,11.40 L261.88,11.40 L262.25,11.40 L262.63,11.40 L263.00,11.40 L263.37,11.40 L263.75,11.40 L264.12,11.40 L264.49,11.40 L264.87,11.40 L265.24,11.40 L265.61,11.40 L265.99,11.40 L266.36,11.40 L266.73,11.40 L267.11,11.40 L267.48,11.40 L267.85,11.40 L268.22,11.40 L268.60,11.40 L268.97,11.40 L269.34,11.40 L269.72,11.40 L270.09,11.40 L270.46,11.40 L270.84,11.40 L271.21,11.40 L271.58,11.40 L271.96,11.40 L272.33,11.40 L272.70,11.40 L273.08,11.40 L273.45,11.40 L273.82,11.40 L274.20,11.40 L274.57,11.40 L274.94,11.40 L275.32,11.40 L275.69,11.40 L276.06,11.40 L276.43,11.40 L276.81,11.40 L277.18,11.40 L277.55,11.40 L277.93,11.40 L278.30,11.40 L278.67,11.40 L279.05,11.40 L279.42,11.40 L279.79,11.40 L280.17,11.40 L280.54,11.40 L280.91,11.40 L281.29,11.40 L281.66,11.40 L282.03,11.40 L282.41,11.40 L282.78,11.40 L283.15,11.40 L283.53,11.40 L283.90,11.40 L284.27,11.40 L284.64,11.40 L285.02,11.40 L285.39,11.40 L285.76,11.40 L286.14,11.40 L286.51,11.40 L286.88,11.40 L287.26,11.40 L287.63,11.40 L288.00,11.40 L288.38,11.40 L288.75,11.40 L289.12,11.40 L289.50,11.40 L289.87,11.40 L290.24,11.40 L290.62,11.40 L290.99,11.40 L291.36,11.40 L291.74,11.40 L292.11,11.40 L292.48,11.40 L292.85,11.40 L293.23,11.40 L293.60,11.40 L293.97,11.40 L294.35,11.40 L294.72,11.40 L295.09,11.40 L295.47,11.40 L295.84,11.40 L296.21,11.40 L296.59,11.40 L296.96,11.40 L297.33,11.40 L297.71,11.40 L298.08,11.40 L298.45,11.40 L298.83,11.40 L299.20,11.40 L299.57,11.40 L299.95,11.40 L300.32,11.40 L300.69,11.40 L301.06,11.40 L301.44,11.40 L301.81,11.40 L302.18,11.40 L302.56,11.40 L302.93,11.40 L303.30,11.40 L303.68,11.40 L304.05,11.40 L304.42,11.40 L304.80,11.40 L305.17,11.40 L305.54,11.40 L305.92,11.40 L306.29,11.40 L306.66,11.40 L307.04,11.40 L307.41,11.40 L307.78,11.40 L308.16,11.40 L308.53,11.40 L308.90,11.40 L309.27,11.40 L309.65,11.40 L310.02,11.40 L310.39,11.40 L310.77,11.40 L311.14,11.40 L311.51,11.40 L311.89,11.40 L312.26,11.40 L312.63,11.40 L313.01,11.40 L313.38,11.40 L313.75,11.40 L314.13,11.40 L314.50,11.40 L314.87,11.40 L315.25,11.40 L315.62,11.40 L315.99,11.40 L316.37,11.40 L316.74,11.40 L317.11,11.40 L317.48,11.40 L317.86,11.40 L318.23,11.40 L318.60,11.40 L318.98,11.40 L319.35,11.40 L319.72,11.40 L320.10,11.40 L320.47,11.40 L320.84,11.40 L321.22,11.40 L321.59,11.40 L321.96,11.40 L322.34,11.40 L322.71,11.40 L323.08,11.40 L323.46,11.40 L323.83,11.40 L324.20,11.40 L324.57,11.40 L324.95,11.40 L325.32,11.40 L325.69,11.40 L326.07,11.40 L326.44,11.40 L326.81,11.40 L327.19,11.40 L327.56,11.40 L327.93,11.40 L328.31,11.40 L328.68,11.40 L329.05,11.40 L329.43,11.40 L329.80,11.40 L330.17,11.40 L330.55,11.40 L330.92,11.40 L331.29,11.40 L331.67,11.40 L332.04,11.40 L332.41,11.40 L332.78,11.40 L333.16,11.40 L333.53,11.40 L333.90,11.40 L334.28,11.40 L334.65,11.40 L335.02,11.40 L335.40,11.40 L335.77,11.40 L336.14,11.40 L336.52,11.40 L336.89,11.40 L337.26,11.40 L337.64,11.40 L338.01,11.40 L338.38,11.40 L338.76,11.40 L339.13,11.40 L339.50,11.40 L339.88,11.40 L340.25,11.40 L340.62,11.40 L340.99,11.40 L341.37,11.40 L341.74,11.40 L342.11,11.40 L342.49,11.40 L342.86,11.40 L343.23,11.40 L343.61,11.40 L343.98,11.40 L344.35,11.40 L344.73,11.40 L345.10,11.40 L345.47,11.40 L345.85,11.40 L346.22,11.40 L346.59,11.40 L346.97,11.40 L347.34,11.40 L347.71,11.40 L348.09,11.40 L348.46,11.40 L348.83,11.40 L349.20,11.40 L349.58,11.40 L349.95,11.40 L350.32,11.40 L350.70,11.40 L351.07,11.40 L351.44,11.40 L351.82,11.40 L352.19,11.40 L352.56,11.40 L352.94,11.40 L353.31,11.40 L353.68,11.40 L354.06,11.40 L354.43,11.40 L354.80,11.40 L355.18,11.40 L355.55,11.40 L355.92,11.40 L356.30,11.40 L356.67,11.40 L357.04,11.40 L357.41,11.40 L357.79,11.40 L358.16,11.40 L358.53,11.40 L358.91,11.40 L359.28,11.40 L359.65,11.40 L360.03,11.40 L360.40,11.40 L360.77,11.40 L361.15,11.40 L361.52,11.40 L361.89,11.40 L362.27,11.40 L362.64,11.40 L363.01,11.40 L363.39,11.40 L363.76,11.40 L364.13,11.40 L364.51,11.40 L364.88,11.40 L365.25,11.40 L365.62,11.40 L366.00,11.40 L366.37,11.40 L366.74,11.40 L367.12,11.40 L367.49,11.40 L367.86,11.40 L368.24,11.40 L368.61,11.40 L368.98,11.40 L369.36,11.40 L369.73,11.40 L370.10,11.40 L370.48,11.40 L370.85,11.40 L371.22,11.40 L371.60,11.40 L371.97,11.40 L372.34,11.40 L372.72,11.40 L373.09,11.40 L373.46,11.40 L373.83,11.40 L374.21,11.40 L374.58,11.40 L374.95,11.40 L375.33,11.40 L375.70,11.40 L376.07,11.40 L376.45,11.40 L376.82,11.40 L377.19,11.40 L377.57,11.40 L377.94,11.40 L378.31,11.40 L378.69,11.40 L379.06,11.40 L379.43,11.40 L379.81,11.40 L380.18,11.40 L380.55,11.40 L380.93,11.40 L381.30,11.40 L381.67,11.40 L382.04,11.40 L382.42,11.40 L382.79,11.40 L383.16,11.40 L383.54,11.40 L383.91,11.40 L384.28,11.40 L384.66,11.40 L385.03,11.40 L385.40,11.40 L385.78,11.40 L386.15,11.40 L386.52,11.40 L386.90,11.40 L387.27,11.40 L387.64,11.40 L388.02,11.40 L388.39,11.40 L388.76,11.40 L389.14,11.40 L389.51,11.40 L389.88,11.40 L390.25,11.40 L390.63,11.40 L391.00,11.40 L391.37,11.40 L391.75,11.40 L392.12,11.40 L392.49,11.40 L392.87,11.40 L393.24,11.40 L393.61,11.40 L393.99,11.40 L394.36,11.40 L394.73,11.40 L395.11,11.40 L395.48,11.40 L395.85,11.40 L396.23,11.40 L396.60,11.40 L396.97,11.40 L397.35,11.41 L397.72,11.41 L398.09,11.41 L398.46,11.41 L398.84,11.41 L399.21,11.41 L399.58,11.41 L399.96,11.41 L400.33,11.41 L400.70,11.41 L401.08,11.41 L401.45,11.41 L401.82,11.41 L402.20,11.41 L402.57,11.41 L402.94,11.41 L403.32,11.41 L403.69,11.42 L404.06,11.42 L404.44,11.42 L404.81,11.42 L405.18,11.42 L405.56,11.42 L405.93,11.42 L406.30,11.43 L406.67,11.43 L407.05,11.43 L407.42,11.43 L407.79,11.43 L408.17,11.44 L408.54,11.44 L408.91,11.44 L409.29,11.44 L409.66,11.45 L410.03,11.45 L410.41,11.45 L410.78,11.46 L411.15,11.46 L411.53,11.46 L411.90,11.47 L412.27,11.47 L412.65,11.48 L413.02,11.48 L413.39,11.49 L413.77,11.50 L414.14,11.50 L414.51,11.51 L414.88,11.52 L415.26,11.52 L415.63,11.53 L416.00,11.54 L416.38,11.55 L416.75,11.56 L417.12,11.57 L417.50,11.59 L417.87,11.60 L418.24,11.61 L418.62,11.63 L418.99,11.64 L419.36,11.66 L419.74,11.68 L420.11,11.69 L420.48,11.71 L420.86,11.74 L421.23,11.76 L421.60,11.78 L421.97,11.81 L422.35,11.84 L422.72,11.87 L423.09,11.90 L423.47,11.93 L423.84,11.97 L424.21,12.01 L424.59,12.05 L424.96,12.09 L425.33,12.14 L425.71,12.19 L426.08,12.25 L426.45,12.30 L426.83,12.37 L427.20,12.43 L427.57,12.50 L427.95,12.58 L428.32,12.66 L428.69,12.74 L429.07,12.83 L429.44,12.93 L429.81,13.04 L430.18,13.15 L430.56,13.27 L430.93,13.39 L431.30,13.53 L431.68,13.67 L432.05,13.83 L432.42,13.99 L432.80,14.17 L433.17,14.36 L433.54,14.56 L433.92,14.77 L434.29,15.00 L434.66,15.25 L435.04,15.51 L435.41,15.78 L435.78,16.08 L436.16,16.39 L436.53,16.73 L436.90,17.09 L437.28,17.47 L437.65,17.88 L438.02,18.32 L438.39,18.78 L438.77,19.27 L439.14,19.80 L439.51,20.36 L439.89,20.96 L440.26,21.59 L440.63,22.27 L441.01,22.99 L441.38,23.75 L441.75,24.57 L442.13,25.43 L442.50,26.36 L442.87,27.33 L443.25,28.37 L443.62,29.48 L443.99,30.65 L444.37,31.89 L444.74,33.21 L445.11,34.61 L445.49,36.09 L445.86,37.65 L446.23,39.31 L446.60,41.06 L446.98,42.92 L447.35,44.88 L447.72,46.94 L448.10,49.12 L448.47,51.42 L448.84,53.84 L449.22,56.39 L449.59,59.06 L449.96,61.87 L450.34,64.82 L450.71,67.91 L451.08,71.14 L451.46,74.52 L451.83,78.05 L452.20,81.73 L452.58,85.56 L452.95,89.55 L453.32,93.69 L453.70,97.98 L454.07,102.43 L454.44,107.03 L454.81,111.77 L455.19,116.65 L455.56,121.68 L455.93,126.84 L456.31,132.12 L456.68,137.53 L457.05,143.04 L457.43,148.66 L457.80,154.37 L458.17,160.16 L458.55,166.03 L458.92,171.95 L459.29,177.93 L459.67,183.93 L460.04,189.96 L460.41,196.00 L460.79,202.03 L461.16,208.05 L461.53,214.03 L461.91,219.97 L462.28,225.85 L462.65,231.67 L463.02,237.41 L463.40,243.06 L463.77,248.61 L464.14,254.04 L464.52,259.37 L464.89,264.56 L465.26,269.63 L465.64,274.56 L466.01,279.34 L466.38,283.99 L466.76,288.48 L467.13,292.82 L467.50,297.00 L467.88,301.04 L468.25,304.92 L468.62,308.65 L469.00,312.22 L469.37,315.65 L469.74,318.92 L470.12,322.06 L470.49,325.05 L470.86,327.90 L471.23,330.61 L471.61,333.20 L471.98,335.65 L472.35,337.99 L472.73,340.20 L473.10,342.30 L473.47,344.30 L473.85,346.18 L474.22,347.96 L474.59,349.65 L474.97,351.25 L475.34,352.75 L475.71,354.17 L476.09,355.52 L476.46,356.78 L476.83,357.97 L477.21,359.10 L477.58,360.16 L477.95,361.15 L478.33,362.09 L478.70,362.97 L479.07,363.80 L479.44,364.58 L479.82,365.32 L480.19,366.01 L480.56,366.65 L480.94,367.26 L481.31,367.83 L481.68,368.37 L482.06,368.87 L482.43,369.35 L482.80,369.79 L483.18,370.21 L483.55,370.60 L483.92,370.96 L484.30,371.31 L484.67,371.63 L485.04,371.93 L485.42,372.21 L485.79,372.48 L486.16,372.73 L486.54,372.96 L486.91,373.18 L487.28,373.38 L487.65,373.57 L488.03,373.75 L488.40,373.92 L488.77,374.08 L489.15,374.23 L489.52,374.37 L489.89,374.49 L490.27,374.62 L490.64,374.73 L491.01,374.84 L491.39,374.94 L491.76,375.03 L492.13,375.12 L492.51,375.20 L492.88,375.28 L493.25,375.35 L493.63,375.41 L494.00,375.48 L494.37,375.54 L494.75,375.59 L495.12,375.64 L495.49,375.69 L495.86,375.74 L496.24,375.78 L496.61,375.82 L496.98,375.86 L497.36,375.89 L497.73,375.92 L498.10,375.95 L498.48,375.98 L498.85,376.01 L499.22,376.03 L499.60,376.06 L499.97,376.08 L500.34,376.10 L500.72,376.12 L501.09,376.14 L501.46,376.15 L501.84,376.17 L502.21,376.18 L502.58,376.20 L502.96,376.21 L503.33,376.22 L503.70,376.23 L504.07,376.25 L504.45,376.26 L504.82,376.26 L505.19,376.27 L505.57,376.28 L505.94,376.29 L506.31,376.30 L506.69,376.30 L507.06,376.31 L507.43,376.31 L507.81,376.32 L508.18,376.33 L508.55,376.33 L508.93,376.33 L509.30,376.34 L509.67,376.34 L510.05,376.35 L510.42,376.35 L510.79,376.35 L511.16,376.36 L511.54,376.36 L511.91,376.36 L512.28,376.36 L512.66,376.37 L513.03,376.37 L513.40,376.37 L513.78,376.37 L514.15,376.37 L514.52,376.38 L514.90,376.38 L515.27,376.38 L515.64,376.38 L516.02,376.38 L516.39,376.38 L516.76,376.38 L517.14,376.38 L517.51,376.39 L517.88,376.39 L518.26,376.39 L518.63,376.39 L519.00,376.39 L519.37,376.39 L519.75,376.39 L520.12,376.39 L520.49,376.39 L520.87,376.39 L521.24,376.39 L521.61,376.39 L521.99,376.39 L522.36,376.39 L522.73,376.39 L523.11,376.39 L523.48,376.40 L523.85,376.40 L524.23,376.40 L524.60,376.40 L524.97,376.40 L525.35,376.40 L525.72,376.40 L526.09,376.40 L526.47,376.40 L526.84,376.40 L527.21,376.40 L527.58,376.40 L527.96,376.40 L528.33,376.40 L528.70,376.40 L529.08,376.40 L529.45,376.40 L529.82,376.40 L530.20,376.40 L530.57,376.40 L530.94,376.40 L531.32,376.40 L531.69,376.40 L532.06,376.40 L532.44,376.40 L532.81,376.40 L533.18,376.40 L533.56,376.40 L533.93,376.40 L534.30,376.40 L534.68,376.40 L535.05,376.40 L535.42,376.40 L535.79,376.40 L536.17,376.40 L536.54,376.40 L536.91,376.40 L537.29,376.40 L537.66,376.40 L538.03,376.40 L538.41,376.40 L538.78,376.40 L539.15,376.40 L539.53,376.40 L539.90,376.40 L540.27,376.40 L540.65,376.40 L541.02,376.40 L541.39,376.40 L541.77,376.40 L542.14,376.40 L542.51,376.40 L542.89,376.40 L543.26,376.40 L543.63,376.40 L544.00,376.40 L544.38,376.40 L544.75,376.40 L545.12,376.40 L545.50,376.40 L545.87,376.40 L546.24,376.40 L546.62,376.40 L546.99,376.40 L547.36,376.40 L547.74,376.40 L548.11,376.40 L548.48,376.40 L548.86,376.40 L549.23,376.40 L549.60,376.40 L549.98,376.40 L550.35,376.40 L550.72,376.40 L551.10,376.40 L551.47,376.40 L551.84,376.40 L552.21,376.40 L552.59,376.40 L552.96,376.40 L553.33,376.40 L553.71,376.40 L554.08,376.40 L554.45,376.40 L554.83,376.40 L555.20,376.40 L555.57,376.40 L555.95,376.40 L556.32,376.40 L556.69,376.40 L557.07,376.40 L557.44,376.40 L557.81,376.40 L558.19,376.40 L558.56,376.40 L558.93,376.40 L559.31,376.40 L559.68,376.40 L560.05,376.40 L560.42,376.40 L560.80,376.40 L561.17,376.40 L561.54,376.40 L561.92,376.40 L562.29,376.40 L562.66,376.40 L563.04,376.40 L563.41,376.40 L563.78,376.40 L564.16,376.40 L564.53,376.40 L564.90,376.40 L565.28,376.40 L565.65,376.40 L566.02,376.40 L566.40,376.40 L566.77,376.40 L567.14,376.40 L567.52,376.40 L567.89,376.40 L568.26,376.40 L568.63,376.40 L569.01,376.40 L569.38,376.40 L569.75,376.40 L570.13,376.40 L570.50,376.40 L570.87,376.40 L571.25,376.40 L571.62,376.40 L571.99,376.40 L572.37,376.40 L572.74,376.40 L573.11,376.40 L573.49,376.40 L573.86,376.40 L574.23,376.40 L574.61,376.40 L574.98,376.40 L575.35,376.40 L575.73,376.40 L576.10,376.40 L576.47,376.40 L576.84,376.40 L577.22,376.40 L577.59,376.40 L577.96,376.40 L578.34,376.40 L578.71,376.40 L579.08,376.40 L579.46,376.40 L579.83,376.40 L580.20,376.40 L580.58,376.40 L580.95,376.40 L581.32,376.40 L581.70,376.40 L582.07,376.40 L582.44,376.40 L582.82,376.40 L583.19,376.40 L583.56,376.40 L583.94,376.40 L584.31,376.40 L584.68,376.40 L585.05,376.40 L585.43,376.40 L585.80,376.40 L586.17,376.40 L586.55,376.40 L586.92,376.40 L587.29,376.40 L587.67,376.40 L588.04,376.40 L588.41,376.40 L588.79,376.40 L589.16,376.40 L589.53,376.40 L589.91,376.40 L590.28,376.40 L590.65,376.40 L591.03,376.40 L591.40,376.40 L591.77,376.40 L592.15,376.40 L592.52,376.40 L592.89,376.40 L593.26,376.40 L593.64,376.40 L594.01,376.40 L594.38,376.40 L594.76,376.40 L595.13,376.40 L595.50,376.40 L595.88,376.40 L596.25,376.40 L596.62,376.40 L597.00,376.40 L597.37,376.40 L597.74,376.40 L598.12,376.40 L598.49,376.40 L598.86,376.40 L599.24,376.40 L599.61,376.40 L599.98,376.40 L600.36,376.40 L600.73,376.40 L601.10,376.40 L601.47,376.40 L601.85,376.40 L602.22,376.40 L602.59,376.40 L602.97,376.40 L603.34,376.40 L603.71,376.40 L604.09,376.40 L604.46,376.40 L604.83,376.40 L605.21,376.40 L605.58,376.40 L605.95,376.40 L606.33,376.40 L606.70,376.40 L607.07,376.40 L607.45,376.40 L607.82,376.40 L608.19,376.40 L608.56,376.40 L608.94,376.40 L609.31,376.40 L609.68,376.40 L610.06,376.40 L610.43,376.40 L610.80,376.40 L611.18,376.40 L611.55,376.40 L611.92,376.40 L612.30,376.40 L612.67,376.40 L613.04,376.40 L613.42,376.40 L613.79,376.40 L614.16,376.40 L614.54,376.40 L614.91,376.40 L615.28,376.40 L615.66,376.40 L616.03,376.40 L616.40,376.40 L616.77,376.40 L617.15,376.40 L617.52,376.40 L617.89,376.40 L618.27,376.40 L618.64,376.40 L619.01,376.40 L619.39,376.40 L619.76,376.40 L620.13,376.40 L620.51,376.40 L620.88,376.40 L621.25,376.40 L621.63,376.40 L622.00,376.40 L622.37,376.40 L622.75,376.40 L623.12,376.40 L623.49,376.40 L623.87,376.40 L624.24,376.40 L624.61,376.40 L624.98,376.40 L625.36,376.40 L625.73,376.40 L626.10,376.40 L626.48,376.40 L626.85,376.40 L627.22,376.40 L627.60,376.40 L627.97,376.40 L628.34,376.40 L628.72,376.40 L629.09,376.40 L629.46,376.40 L629.84,376.40 L630.21,376.40 L630.58,376.40 L630.96,376.40 L631.33,376.40 L631.70,376.40 L632.08,376.40 L632.45,376.40 L632.82,376.40 L633.19,376.40 L633.57,376.40 L633.94,376.40 L634.31,376.40 L634.69,376.40 L635.06,376.40 L635.43,376.40 L635.81,376.40 L636.18,376.40 L636.55,376.40 L636.93,376.40 L637.30,376.40 L637.67,376.40 L638.05,376.40 L638.42,376.40 L638.79,376.40 L639.17,376.40 L639.54,376.40 L639.91,376.40 L640.29,376.40 L640.66,376.40 L641.03,376.40 L641.40,376.40 L641.78,376.40" stroke="#000000" stroke-width="2.15"/>
<path d="M413.1,9.4 L507.6,378.7" stroke="#ff8000" stroke-width="3.5" stroke-linecap="butt"/>
</g>
<g fill="none">
<rect x="65.45" y="3.45" width="587.05" height="381.05" stroke="#949494" stroke-width="1.05"/>
<path d="M76.65,384.50v-3.90M76.65,3.45v3.90M104.85,384.50v-2.30M104.85,3.45v2.30M133.05,384.50v-2.30M133.05,3.45v2.30M161.25,384.50v-2.30M161.25,3.45v2.30M189.45,384.50v-3.90M189.45,3.45v3.90M217.65,384.50v-2.30M217.65,3.45v2.30M245.85,384.50v-2.30M245.85,3.45v2.30M274.05,384.50v-2.30M274.05,3.45v2.30M302.25,384.50v-3.90M302.25,3.45v3.90M330.45,384.50v-2.30M330.45,3.45v2.30M358.65,384.50v-2.30M358.65,3.45v2.30M386.85,384.50v-2.30M386.85,3.45v2.30M415.05,384.50v-3.90M415.05,3.45v3.90M443.25,384.50v-2.30M443.25,3.45v2.30M471.45,384.50v-2.30M471.45,3.45v2.30M499.65,384.50v-2.30M499.65,3.45v2.30M527.85,384.50v-3.90M527.85,3.45v3.90M556.05,384.50v-2.30M556.05,3.45v2.30M584.25,384.50v-2.30M584.25,3.45v2.30M612.45,384.50v-2.30M612.45,3.45v2.30M640.65,384.50v-3.90M640.65,3.45v3.90M65.45,11.40h3.90M652.50,11.40h-3.90M65.45,29.65h2.30M652.50,29.65h-2.30M65.45,47.90h2.30M652.50,47.90h-2.30M65.45,66.15h2.30M652.50,66.15h-2.30M65.45,84.40h3.90M652.50,84.40h-3.90M65.45,102.65h2.30M652.50,102.65h-2.30M65.45,120.90h2.30M652.50,120.90h-2.30M65.45,139.15h2.30M652.50,139.15h-2.30M65.45,157.40h3.90M652.50,157.40h-3.90M65.45,175.65h2.30M652.50,175.65h-2.30M65.45,193.90h2.30M652.50,193.90h-2.30M65.45,212.15h2.30M652.50,212.15h-2.30M65.45,230.40h3.90M652.50,230.40h-3.90M65.45,248.65h2.30M652.50,248.65h-2.30M65.45,266.90h2.30M652.50,266.90h-2.30M65.45,285.15h2.30M652.50,285.15h-2.30M65.45,303.40h3.90M652.50,303.40h-3.90M65.45,321.65h2.30M652.50,321.65h-2.30M65.45,339.90h2.30M652.50,339.90h-2.30M65.45,358.15h2.30M652.50,358.15h-2.30M65.45,376.40h3.90M652.50,376.40h-3.90" stroke="#7c7c7c" stroke-width="0.9"/>
</g>
<text transform="translate(76.65,404.80) scale(0.950,1)" font-size="20.30" text-anchor="middle">0.0</text>
<text transform="translate(189.45,404.80) scale(0.950,1)" font-size="20.30" text-anchor="middle">0.2</text>
<text transform="translate(302.25,404.80) scale(0.950,1)" font-size="20.30" text-anchor="middle">0.4</text>
<text transform="translate(415.05,404.80) scale(0.950,1)" font-size="20.30" text-anchor="middle">0.6</text>
<text transform="translate(527.85,404.80) scale(0.950,1)" font-size="20.30" text-anchor="middle">0.8</text>
<text transform="translate(640.65,404.80) scale(0.950,1)" font-size="20.30" text-anchor="middle">1.0</text>
<text transform="translate(62.30,17.85) scale(0.950,1)" font-size="20.30" text-anchor="end">0.0</text>
<text transform="translate(62.30,90.85) scale(0.950,1)" font-size="20.30" text-anchor="end">0.2</text>
<rect x="26.90" y="84.70" width="10.20" height="1.10" fill="#000"/>
<text transform="translate(62.30,163.85) scale(0.950,1)" font-size="20.30" text-anchor="end">0.4</text>
<rect x="26.90" y="157.70" width="10.20" height="1.10" fill="#000"/>
<text transform="translate(62.30,236.85) scale(0.950,1)" font-size="20.30" text-anchor="end">0.6</text>
<rect x="26.90" y="230.70" width="10.20" height="1.10" fill="#000"/>
<text transform="translate(62.30,309.85) scale(0.950,1)" font-size="20.30" text-anchor="end">0.8</text>
<rect x="26.90" y="303.70" width="10.20" height="1.10" fill="#000"/>
<text transform="translate(62.30,382.85) scale(0.950,1)" font-size="20.30" text-anchor="end">1.0</text>
<rect x="26.90" y="376.70" width="10.20" height="1.10" fill="#000"/>
<text transform="translate(359.20,433.00) scale(0.950,1)" font-size="20.30" text-anchor="middle">a</text>
<text transform="translate(16.6,203.5) rotate(-90)" font-size="19.2" font-style="italic">w</text><text transform="translate(20.2,191.5) rotate(-90)" font-size="15" font-style="italic">u</text>
<g fill="none" stroke-width="2.1">
<path d="M484.40,40.10H531.00" stroke="#ff0000" stroke-dasharray="2.6 1.82"/>
<path d="M484.40,64.20H534.00" stroke="#00ff00" stroke-dasharray="2.7 1.75 5.3 1.75"/>
<path d="M484.40,89.90H535.00" stroke="#0000ff" stroke-dasharray="9.2 4.75"/>
<path d="M484.40,113.90H535.00" stroke="#000000"/>
</g>
<text transform="translate(547.8,42.10) scale(1.03,1)" font-size="20.3" font-style="italic">β</text>
<rect x="558.9" y="34.53" width="9.6" height="1.35" fill="#000"/><rect x="558.9" y="38.83" width="9.6" height="1.35" fill="#000"/>
<text transform="translate(568.70,42.10) scale(0.926,1)" font-size="20.30" text-anchor="start">0.5</text>
<text transform="translate(547.8,69.60) scale(1.03,1)" font-size="20.3" font-style="italic">β</text>
<rect x="558.9" y="62.03" width="9.6" height="1.35" fill="#000"/><rect x="558.9" y="66.33" width="9.6" height="1.35" fill="#000"/>
<text transform="translate(568.70,69.60) scale(0.926,1)" font-size="20.30" text-anchor="start">0.1</text>
<text transform="translate(547.8,96.70) scale(1.03,1)" font-size="20.3" font-style="italic">β</text>
<rect x="558.9" y="89.13" width="9.6" height="1.35" fill="#000"/><rect x="558.9" y="93.43" width="9.6" height="1.35" fill="#000"/>
<text transform="translate(568.70,96.70) scale(0.926,1)" font-size="20.30" text-anchor="start">0.05</text>
<text transform="translate(547.8,123.80) scale(1.03,1)" font-size="20.3" font-style="italic">β</text>
<rect x="558.9" y="116.23" width="9.6" height="1.35" fill="#000"/><rect x="558.9" y="120.53" width="9.6" height="1.35" fill="#000"/>
<text transform="translate(568.70,123.80) scale(0.926,1)" font-size="20.30" text-anchor="start">0.02</text>
<rect x="145.50" y="190.35" width="214.40" height="138.95" fill="#fff"/>
<g clip-path="url(#ic)" fill="none">
<path d="M138.85,320.35 L143.45,320.48 L148.04,320.60 L152.64,320.73 L157.23,320.86 L161.83,320.98 L166.42,321.11 L171.02,321.23 L175.61,321.36 L180.21,321.49 L184.80,321.61 L189.40,321.74 L193.99,321.86 L198.59,321.99 L203.19,322.11 L207.78,322.24 L212.38,322.37 L216.97,322.49 L221.57,322.62 L226.16,322.74 L230.76,322.87 L235.35,323.00 L239.95,323.12 L244.54,323.25 L249.14,323.37 L253.73,323.50 L258.33,323.62 L262.93,323.75 L267.52,323.88 L272.12,324.00 L276.71,324.13 L281.31,324.25 L285.90,324.38 L290.50,324.51 L295.09,324.63 L299.69,324.76 L304.28,324.88 L308.88,325.01 L313.48,325.14 L318.07,325.26 L322.67,325.39 L327.26,325.51 L331.86,325.64 L336.45,325.76 L341.05,325.89 L345.64,326.02 L350.24,326.14 L354.83,326.27 L359.43,326.39 L364.02,326.52 L368.62,326.65" stroke="#ff0000" stroke-width="1.05" stroke-dasharray="1.4 3.0" stroke-dashoffset="1.85"/>
<path d="M138.85,296.67 L143.45,297.29 L148.04,297.92 L152.64,298.54 L157.23,299.16 L161.83,299.79 L166.42,300.41 L171.02,301.03 L175.61,301.66 L180.21,302.28 L184.80,302.91 L189.40,303.53 L193.99,304.16 L198.59,304.78 L203.19,305.41 L207.78,306.04 L212.38,306.66 L216.97,307.29 L221.57,307.92 L226.16,308.54 L230.76,309.17 L235.35,309.80 L239.95,310.42 L244.54,311.05 L249.14,311.68 L253.73,312.31 L258.33,312.93 L262.93,313.56 L267.52,314.19 L272.12,314.82 L276.71,315.45 L281.31,316.08 L285.90,316.70 L290.50,317.33 L295.09,317.96 L299.69,318.59 L304.28,319.22 L308.88,319.85 L313.48,320.48 L318.07,321.11 L322.67,321.74 L327.26,322.37 L331.86,322.99 L336.45,323.62 L341.05,324.25 L345.64,324.88 L350.24,325.51 L354.83,326.14 L359.43,326.77 L364.02,327.40 L368.62,328.03" stroke="#00ff00" stroke-width="1.05" stroke-dasharray="1.4 2.9 4.2 2.9" stroke-dashoffset="10.75"/>
<path d="M138.85,267.68 L143.45,268.89 L148.04,270.09 L152.64,271.30 L157.23,272.52 L161.83,273.73 L166.42,274.95 L171.02,276.17 L175.61,277.39 L180.21,278.61 L184.80,279.83 L189.40,281.06 L193.99,282.29 L198.59,283.51 L203.19,284.75 L207.78,285.98 L212.38,287.21 L216.97,288.45 L221.57,289.68 L226.16,290.92 L230.76,292.16 L235.35,293.40 L239.95,294.65 L244.54,295.89 L249.14,297.14 L253.73,298.38 L258.33,299.63 L262.93,300.88 L267.52,302.13 L272.12,303.38 L276.71,304.63 L281.31,305.88 L285.90,307.13 L290.50,308.38 L295.09,309.64 L299.69,310.89 L304.28,312.15 L308.88,313.40 L313.48,314.66 L318.07,315.92 L322.67,317.17 L327.26,318.43 L331.86,319.69 L336.45,320.95 L341.05,322.21 L345.64,323.47 L350.24,324.72 L354.83,325.98 L359.43,327.24 L364.02,328.50 L368.62,329.76" stroke="#0000ff" stroke-width="1.05" stroke-dasharray="3.9 2.6" stroke-dashoffset="2.5"/>
<path d="M138.85,189.89 L143.45,192.32 L148.04,194.78 L152.64,197.26 L157.23,199.77 L161.83,202.30 L166.42,204.86 L171.02,207.44 L175.61,210.04 L180.21,212.67 L184.80,215.33 L189.40,218.00 L193.99,220.70 L198.59,223.42 L203.19,226.17 L207.78,228.93 L212.38,231.72 L216.97,234.52 L221.57,237.35 L226.16,240.20 L230.76,243.06 L235.35,245.95 L239.95,248.85 L244.54,251.77 L249.14,254.71 L253.73,257.67 L258.33,260.64 L262.93,263.62 L267.52,266.62 L272.12,269.64 L276.71,272.66 L281.31,275.70 L285.90,278.76 L290.50,281.82 L295.09,284.90 L299.69,287.98 L304.28,291.07 L308.88,294.18 L313.48,297.29 L318.07,300.40 L322.67,303.53 L327.26,306.66 L331.86,309.79 L336.45,312.93 L341.05,316.07 L345.64,319.21 L350.24,322.36 L354.83,325.51 L359.43,328.65 L364.02,331.80 L368.62,334.94" stroke="#000000" stroke-width="1.1"/>
<path d="M145.0,291.55 L356.9,326.4 L361,327.07" stroke="#ff8000" stroke-width="1.85"/>
</g>
<g fill="none">
<path d="M145.50,190.35V329.30H359.90V190.35" stroke="#a2a2a2" stroke-width="0.9"/><path d="M145.10,190.35H360.30" stroke="#6c6c6c" stroke-width="0.8"/>
<path d="M149.20,329.30v-3.00M149.20,190.35v3.00M159.55,329.30v-1.80M159.55,190.35v1.80M169.90,329.30v-1.80M169.90,190.35v1.80M180.25,329.30v-1.80M180.25,190.35v1.80M190.60,329.30v-3.00M190.60,190.35v3.00M200.95,329.30v-1.80M200.95,190.35v1.80M211.30,329.30v-1.80M211.30,190.35v1.80M221.65,329.30v-1.80M221.65,190.35v1.80M232.00,329.30v-3.00M232.00,190.35v3.00M242.35,329.30v-1.80M242.35,190.35v1.80M252.70,329.30v-1.80M252.70,190.35v1.80M263.05,329.30v-1.80M263.05,190.35v1.80M273.40,329.30v-3.00M273.40,190.35v3.00M283.75,329.30v-1.80M283.75,190.35v1.80M294.10,329.30v-1.80M294.10,190.35v1.80M304.45,329.30v-1.80M304.45,190.35v1.80M314.80,329.30v-3.00M314.80,190.35v3.00M325.15,329.30v-1.80M325.15,190.35v1.80M335.50,329.30v-1.80M335.50,190.35v1.80M345.85,329.30v-1.80M345.85,190.35v1.80M356.20,329.30v-3.00M356.20,190.35v3.00M145.50,195.89h1.80M359.90,195.89h-1.80M145.50,201.56h1.80M359.90,201.56h-1.80M145.50,207.23h1.80M359.90,207.23h-1.80M145.50,212.90h3.00M359.90,212.90h-3.00M145.50,218.57h1.80M359.90,218.57h-1.80M145.50,224.24h1.80M359.90,224.24h-1.80M145.50,229.91h1.80M359.90,229.91h-1.80M145.50,235.58h1.80M359.90,235.58h-1.80M145.50,241.25h3.00M359.90,241.25h-3.00M145.50,246.92h1.80M359.90,246.92h-1.80M145.50,252.59h1.80M359.90,252.59h-1.80M145.50,258.26h1.80M359.90,258.26h-1.80M145.50,263.93h1.80M359.90,263.93h-1.80M145.50,269.60h3.00M359.90,269.60h-3.00M145.50,275.27h1.80M359.90,275.27h-1.80M145.50,280.94h1.80M359.90,280.94h-1.80M145.50,286.61h1.80M359.90,286.61h-1.80M145.50,292.28h1.80M359.90,292.28h-1.80M145.50,297.95h3.00M359.90,297.95h-3.00M145.50,303.62h1.80M359.90,303.62h-1.80M145.50,309.29h1.80M359.90,309.29h-1.80M145.50,314.96h1.80M359.90,314.96h-1.80M145.50,320.63h1.80M359.90,320.63h-1.80M145.50,326.30h3.00M359.90,326.30h-3.00" stroke="#909090" stroke-width="0.6"/>
</g>
<text transform="translate(148.90,346.80) scale(0.920,1)" font-size="17.30" text-anchor="middle">0.670</text>
<text transform="translate(190.30,346.80) scale(0.920,1)" font-size="17.30" text-anchor="middle">0.672</text>
<text transform="translate(231.70,346.80) scale(0.920,1)" font-size="17.30" text-anchor="middle">0.674</text>
<text transform="translate(273.10,346.80) scale(0.920,1)" font-size="17.30" text-anchor="middle">0.676</text>
<text transform="translate(314.50,346.80) scale(0.920,1)" font-size="17.30" text-anchor="middle">0.678</text>
<text transform="translate(355.90,346.80) scale(0.920,1)" font-size="17.30" text-anchor="middle">0.680</text>
<text transform="translate(142.40,219.00) scale(0.930,1)" font-size="17.30" text-anchor="end">0.30</text>
<rect x="104.30" y="213.70" width="8.50" height="1.00" fill="#000"/>
<text transform="translate(142.40,247.35) scale(0.930,1)" font-size="17.30" text-anchor="end">0.35</text>
<rect x="104.30" y="242.05" width="8.50" height="1.00" fill="#000"/>
<text transform="translate(142.40,275.70) scale(0.930,1)" font-size="17.30" text-anchor="end">0.40</text>
<rect x="104.30" y="270.40" width="8.50" height="1.00" fill="#000"/>
<text transform="translate(142.40,304.05) scale(0.930,1)" font-size="17.30" text-anchor="end">0.45</text>
<rect x="104.30" y="298.75" width="8.50" height="1.00" fill="#000"/>
<text transform="translate(142.40,332.40) scale(0.930,1)" font-size="17.30" text-anchor="end">0.50</text>
<rect x="104.30" y="327.10" width="8.50" height="1.00" fill="#000"/>
<text transform="translate(252.70,372.00) scale(0.950,1)" font-size="17.30" text-anchor="middle">a</text>
<text transform="translate(94.4,267.8) rotate(-90)" font-size="15.6" font-style="italic">w</text><text transform="translate(97.4,257.4) rotate(-90)" font-size="12.5" font-style="italic">u</text>
</svg></body></html>
